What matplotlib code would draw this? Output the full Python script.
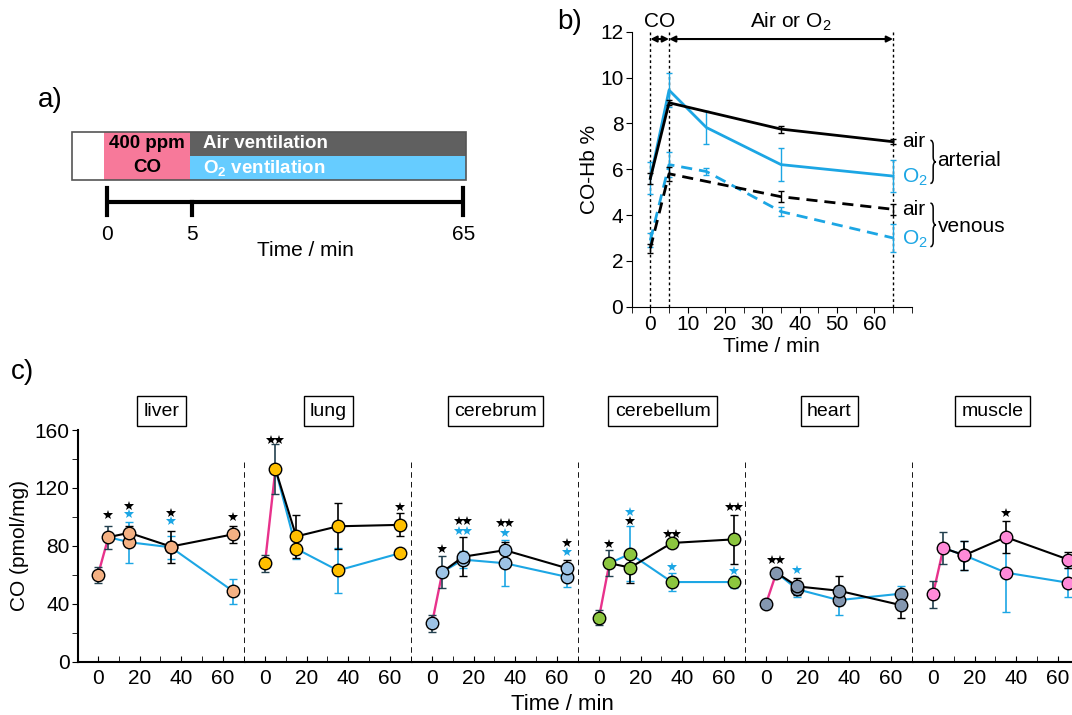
import matplotlib.pyplot as plt
import numpy as np
from matplotlib.patches import Rectangle, PathPatch
from matplotlib.path import Path
from matplotlib.ticker import MultipleLocator, FixedLocator

plt.rcParams['font.family'] = ['Liberation Sans', 'DejaVu Sans']
plt.rcParams['mathtext.default'] = 'regular'

BLUE = '#1CA6E4'
PINK_LINE = '#E8328C'

# ---- panel b data (CO-Hb %) ----
b_times = [0, 5, 15, 35, 65]
b_air_times = [0, 5, 35, 65]
art_air = [5.6, 8.9, 7.75, 7.2]
art_air_err = [0.25, 0.1, 0.15, 0.1]
art_o2 = [5.6, 9.45, 7.82, 6.2, 5.7]
art_o2_err = [0.7, 0.75, 0.73, 0.73, 0.71]
ven_air = [2.55, 5.8, 4.8, 4.25]
ven_air_err = [0.2, 0.3, 0.25, 0.25]
ven_o2 = [2.9, 6.2, 5.9, 4.15, 3.0]
ven_o2_err = [0.3, 0.55, 0.15, 0.2, 0.6]

# ---- panel c data (CO pmol/mg) ----
tissues = ['liver', 'lung', 'cerebrum', 'cerebellum', 'heart', 'muscle']
tissue_colors = ['#F4B183', '#FFC000', '#9DC3E6', '#8CC63F', '#8497B0', '#FF8AD8']
base_times = [0, 5]
post_times = [15, 35, 65]
base_mean = [[60, 86], [68, 133], [26.5, 62], [30.5, 68], [40, 61.5], [46.5, 78.5]]
base_err = [[5.5, 8], [6, 17], [6, 11], [5, 9], [0, 0], [9.5, 11]]
air_mean = [[89, 79.5, 88], [86.5, 93.5, 94.5], [72.5, 77, 64.5],
            [65, 82, 84.5], [52, 49, 39], [73.5, 86, 70.5]]
air_err = [[5, 11, 6], [15, 16, 8], [13.5, 6, 5.5],
           [10.5, 2, 17], [6, 10, 9], [10, 11, 5.5]]
o2_mean = [[82.5, 79, 48.5], [78, 63, 75], [70.5, 68, 58.5],
           [74.5, 55, 55], [50, 42.5, 47], [73.5, 61.5, 54.5]]
o2_err = [[14, 8, 8.5], [7, 15.5, 3], [6, 16, 7],
          [19, 6, 4], [5, 10, 5], [10, 27, 10]]

# significance stars: (time, number of stars, colour, y)
stars = [
    [(5, 1, 'k', 101), (15, 1, 'k', 107.5), (15, 1, 'b', 102), (35, 1, 'k', 102.5),
     (35, 1, 'b', 97), (65, 1, 'k', 100)],
    [(5, 2, 'k', 153), (65, 1, 'k', 107)],
    [(5, 1, 'k', 77.5), (15, 2, 'k', 97), (15, 2, 'b', 90.5), (35, 2, 'k', 95.5),
     (35, 1, 'b', 89), (65, 1, 'k', 82), (65, 1, 'b', 75.5)],
    [(5, 1, 'k', 81.5), (15, 1, 'b', 103.5), (15, 1, 'k', 97), (35, 2, 'k', 88.5),
     (35, 1, 'b', 65.5), (65, 2, 'k', 106.5), (65, 1, 'b', 62.5)],
    [(5, 2, 'k', 70), (15, 1, 'b', 63)],
    [(35, 1, 'k', 102.5)],
]

fig = plt.figure(figsize=(10.72, 7.15), dpi=100)
W, H = 1072.0, 715.0

# ================= panel a : protocol scheme =================
def sched(t):
    return np.interp(t, [0, 5, 65], [0, 5, 20.83])

ax_a = fig.add_axes([63.9 / W, 1 - 260 / H, 410.9 / W, 140 / H])
ax_a.set_xlim(-2.5, 21.5)
ax_a.set_ylim(0, 1)
ax_a.axis('off')
y0, ym, y1 = 0.571, 0.745, 0.916
ax_a.add_patch(Rectangle((-2.05, y0), 2.05, y1 - y0, fc='white', ec='none'))
ax_a.add_patch(Rectangle((-0.15, y0), sched(5), y1 - y0, fc='#F7799A', ec='none'))
ax_a.add_patch(Rectangle((sched(5) - 0.15, ym), sched(65) - sched(5) + 0.3, y1 - ym,
                         fc='#606060', ec='none'))
ax_a.add_patch(Rectangle((sched(5) - 0.15, y0), sched(65) - sched(5) + 0.3, ym - y0,
                         fc='#66CCFF', ec='none'))
ax_a.add_patch(Rectangle((-2.05, y0), sched(65) + 2.2, y1 - y0, fc='none', ec='#555555', lw=1.2))
bold_kw = dict(va='center', fontsize=13.5, fontweight='bold')
ax_a.text(2.35, 0.83, '400 ppm', ha='center', **bold_kw)
ax_a.text(2.35, 0.66, 'CO', ha='center', **bold_kw)
ax_a.text(5.6, 0.83, 'Air ventilation', ha='left', color='white', **bold_kw)
ax_a.text(5.6, 0.66, r'O$_2$ ventilation', ha='left', color='white', **bold_kw)
ax_a.plot([sched(0), sched(65)], [0.416, 0.416], color='k', lw=3, solid_capstyle='butt')
for t in [0, 65]:
    ax_a.plot([sched(t)] * 2, [0.321, 0.514], color='k', lw=3)
ax_a.plot([sched(5)] * 2, [0.321, 0.416], color='k', lw=3)
for t in [0, 5, 65]:
    ax_a.text(sched(t), 0.18, str(t), ha='center', va='center', fontsize=15)
ax_a.text(11.6, 0.07, 'Time / min', ha='center', va='center', fontsize=15)
fig.text(50 / W, 1 - 100 / H, 'a)', ha='center', va='center', fontsize=20)

# ================= panel b : CO-Hb =================
def brace(ax, x0, yb, yt, w):
    ym = 0.5 * (yb + yt)
    r = 0.12 * (yt - yb)
    xm = x0 + w / 2
    verts = [(x0, yt), (xm, yt), (xm, yt - r), (xm, ym + r), (xm, ym), (x0 + w, ym),
             (xm, ym), (xm, ym - r), (xm, yb + r), (xm, yb), (x0, yb)]
    codes = [Path.MOVETO, Path.CURVE3, Path.CURVE3, Path.LINETO, Path.CURVE3, Path.CURVE3,
             Path.CURVE3, Path.CURVE3, Path.LINETO, Path.CURVE3, Path.CURVE3]
    ax.add_patch(PathPatch(Path(verts, codes), fc='none', ec='k', lw=1.1, clip_on=False))

ax_b = fig.add_axes([631.7 / W, 1 - 306.7 / H, 280 / W, 275 / H])
ax_b.set_xlim(-5, 70)
ax_b.set_ylim(0, 12)
for t in [0, 5, 65]:
    ax_b.axvline(t, color='k', lw=1, ls=(0, (2, 2)), zorder=1)
ax_b.errorbar(b_times, art_o2, yerr=art_o2_err, color=BLUE, lw=2, elinewidth=1,
              capsize=2, zorder=3)
ax_b.errorbar(b_air_times, art_air, yerr=art_air_err, color='k', lw=2, elinewidth=1,
              capsize=2, zorder=4)
ax_b.errorbar(b_times, ven_o2, yerr=ven_o2_err, color=BLUE, lw=2, ls=(0, (4, 2.5)),
              elinewidth=1, capsize=2, zorder=3)
ax_b.errorbar(b_air_times, ven_air, yerr=ven_air_err, color='k', lw=2, ls=(0, (4, 2.5)),
              elinewidth=1, capsize=2, zorder=4)
ax_b.annotate('', xy=(0, 11.68), xytext=(5, 11.68),
              arrowprops=dict(arrowstyle='<|-|>', color='k', lw=1.5, mutation_scale=9,
                              shrinkA=0, shrinkB=0))
ax_b.annotate('', xy=(5, 11.68), xytext=(65, 11.68),
              arrowprops=dict(arrowstyle='<|-|>', color='k', lw=1.5, mutation_scale=9,
                              shrinkA=0, shrinkB=0))
ax_b.text(2.4, 12.45, 'CO', ha='center', va='center', fontsize=15)
ax_b.text(37.5, 12.45, r'Air or O$_2$', ha='center', va='center', fontsize=15)
lab_kw = dict(ha='left', va='center', fontsize=15, clip_on=False)
ax_b.text(67.4, art_air[-1], 'air', **lab_kw)
ax_b.text(67.4, art_o2[-1] - 0.05, r'O$_2$', color=BLUE, **lab_kw)
ax_b.text(67.4, ven_air[-1], 'air', **lab_kw)
ax_b.text(67.4, ven_o2[-1] - 0.05, r'O$_2$', color=BLUE, **lab_kw)
brace(ax_b, 75.0, 5.38, 7.26, 1.5)
brace(ax_b, 75.0, 2.62, 4.52, 1.5)
ax_b.text(76.9, 6.4, 'arterial', **lab_kw)
ax_b.text(76.9, 3.52, 'venous', **lab_kw)
ax_b.spines['top'].set_visible(False)
ax_b.spines['right'].set_visible(False)
ax_b.xaxis.set_major_locator(FixedLocator(range(0, 61, 10)))
ax_b.xaxis.set_minor_locator(FixedLocator([-5, 5, 15, 25, 35, 45, 55, 65, 70]))
ax_b.yaxis.set_major_locator(MultipleLocator(2))
ax_b.tick_params(which='both', direction='out', length=4, labelsize=15, pad=2)
ax_b.set_xlabel('Time / min', fontsize=15, labelpad=2)
ax_b.set_ylabel('CO-Hb %', fontsize=15, labelpad=1)
fig.text(570 / W, 1 - 22 / H, 'b)', ha='center', va='center', fontsize=20)

# ================= panel c : tissue CO =================
panel_w = 167.0
px_per_min = 2.083
x_left = -9.6
c_bottom = 1 - 661.7 / H
c_height = (661.7 - 430) / H
lefts = [78 + i * panel_w for i in range(6)]
for i, name in enumerate(tissues):
    wpx = min(panel_w, W - lefts[i])
    ax = fig.add_axes([lefts[i] / W, c_bottom, wpx / W, c_height])
    ax.set_xlim(x_left, x_left + wpx / px_per_min)
    ax.set_ylim(0, 160)
    col = tissue_colors[i]
    tb, ta = base_times, post_times
    # O2 line then air line
    ax.plot([5] + ta, [base_mean[i][1]] + o2_mean[i], color=BLUE, lw=1.5, zorder=2)
    ax.errorbar(ta, o2_mean[i], yerr=o2_err[i], fmt='none', ecolor=BLUE, elinewidth=1.2,
                capsize=3, zorder=2)
    ax.plot([5] + ta, [base_mean[i][1]] + air_mean[i], color='k', lw=1.5, zorder=3)
    ax.errorbar(ta, air_mean[i], yerr=air_err[i], fmt='none', ecolor='k', elinewidth=1.2,
                capsize=3, zorder=3)
    ax.plot(tb, base_mean[i], color=PINK_LINE, lw=1.7, zorder=3)
    if max(base_err[i]) > 0:
        ax.errorbar(tb, base_mean[i], yerr=base_err[i], fmt='none', ecolor='#22404e',
                    elinewidth=1.2, capsize=3, zorder=3)
    ax.plot(ta, o2_mean[i], 'o', ms=9, mfc=col, mec='k', mew=1, zorder=4)
    ax.plot(ta, air_mean[i], 'o', ms=9, mfc=col, mec='k', mew=1, zorder=5)
    ax.plot(tb, base_mean[i], 'o', ms=9, mfc=col, mec='k', mew=1, zorder=5)
    for (t, n, c, y) in stars[i]:
        xs = [t] if n == 1 else [t - 1.9, t + 1.9]
        ax.plot(xs, [y] * n, ls='none', marker='*', ms=7, mew=0,
                color=BLUE if c == 'b' else 'k', zorder=6)
    ax.text(0.5, 1.082, name, transform=ax.transAxes, ha='center', va='center',
            fontsize=14, bbox=dict(boxstyle='square,pad=0.33', fc='white', ec='k', lw=1))
    ax.spines['top'].set_visible(False)
    ax.spines['right'].set_visible(False)
    ax.spines['bottom'].set_linewidth(1.5)
    ax.xaxis.set_major_locator(MultipleLocator(20))
    ax.xaxis.set_minor_locator(MultipleLocator(10))
    ax.tick_params(axis='x', which='both', direction='in', length=4, labelsize=15, pad=5)
    if i == 0:
        ax.spines['left'].set_linewidth(1.5)
        ax.yaxis.set_major_locator(MultipleLocator(40))
        ax.yaxis.set_minor_locator(MultipleLocator(20))
        ax.tick_params(axis='y', which='both', direction='out', length=4, labelsize=15, pad=2)
        ax.set_ylabel('CO (pmol/mg)', fontsize=15, labelpad=4)
    else:
        ax.spines['left'].set_visible(False)
        ax.tick_params(axis='y', which='both', left=False, labelleft=False)
    if i < 5:
        ax.axvline(ax.get_xlim()[1], ymin=0, ymax=139 / 160, color='k', lw=2,
                   ls=(0, (2, 1.5)), clip_on=False, zorder=6)
fig.text(562 / W, 1 - 705 / H, 'Time / min', ha='center', va='center', fontsize=16)
fig.text(22 / W, 1 - 372 / H, 'c)', ha='center', va='center', fontsize=20)

fig.savefig('out.png', dpi=100)
